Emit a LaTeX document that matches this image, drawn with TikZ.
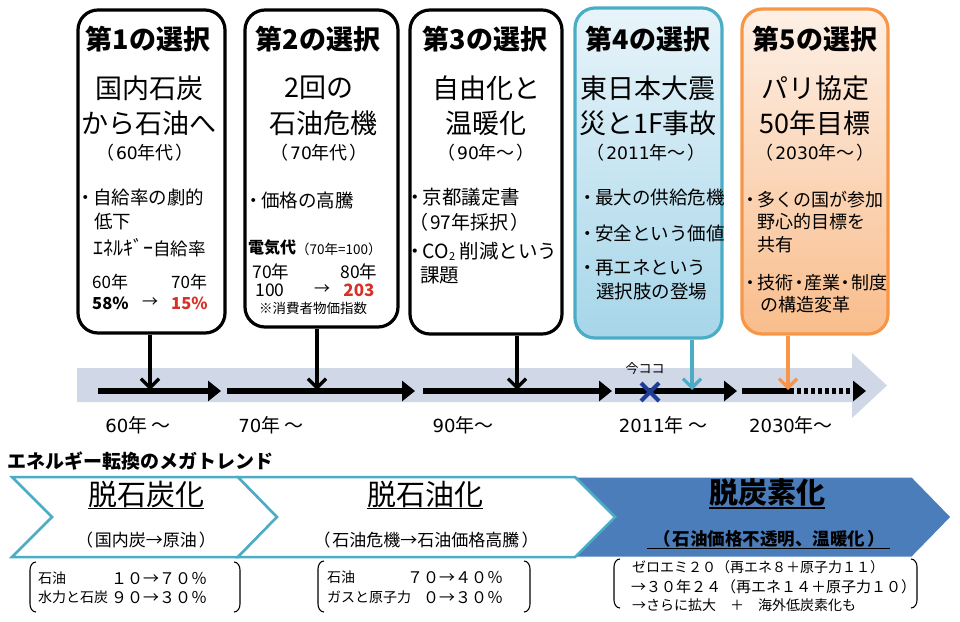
\documentclass[tikz,border=0pt]{standalone}
\usepackage{fontspec}
\setmainfont{Noto Sans CJK JP}
\newfontfamily\djvfont{DejaVu Sans}[Scale=0.95]
\usetikzlibrary{arrows.meta}
\definecolor{tealb}{HTML}{4BACC6}
\definecolor{tealf1}{HTML}{E8F4FA}
\definecolor{tealf2}{HTML}{A6D6E9}
\definecolor{orab}{HTML}{F79646}
\definecolor{oraf1}{HTML}{FDF0E6}
\definecolor{oraf2}{HTML}{F9BD8C}
\definecolor{band}{HTML}{D0D8E8}
\definecolor{chevb}{HTML}{4BACC6}
\definecolor{chevblue}{HTML}{4A7DBA}
\definecolor{xblue}{HTML}{1F3C96}
\definecolor{redt}{HTML}{D6322A}
\newcommand\fs[1]{\fontsize{#1pt}{#1pt}\selectfont}
\newcommand\bul{\makebox[0.8em][c]{・}}
\newcommand\lp{（\hspace{2pt}}
\newcommand\rp{\hspace{2pt}）}
\newcommand\dg[1]{{\djvfont #1}}
\tikzset{
  boxbase/.style={rounded corners=20pt, line width=3.2pt},
  blackbox/.style={boxbase, draw=black, fill=white},
  tealbox/.style={boxbase, draw=tealb, top color=tealf1, bottom color=tealf2},
  orabox/.style={boxbase, draw=orab, top color=oraf1, bottom color=oraf2},
  txt/.style={inner sep=0pt, font=\fs{18.5}},
  ttl/.style={inner sep=0pt, font=\fs{27}\bfseries},
  big/.style={inner sep=0pt, font=\fs{27}},
  era/.style={inner sep=0pt, font=\fs{18}},
  varrow/.style={line width=3.3pt, -{Straight Barb[length=9pt,width=18pt]}},
  tarrow/.style={line width=5.5pt, -{Triangle[length=13pt,width=20pt]}},
  lbl/.style={inner sep=0pt, font=\fs{19}},
  chev/.style={draw=chevb, line width=2.5pt, fill=white, line join=miter},
  small/.style={inner sep=0pt, font=\fs{14}},
  num/.style={inner sep=0pt, font=\fs{16}},
  brk/.style={line width=1.1pt},
}
\begin{document}
\begin{tikzpicture}[x=1pt,y=-1pt]
\useasboundingbox (0,0) rectangle (960,621);
% ---------- timeline band ----------
\fill[band] (77,368) -- (852,368) -- (852,353) -- (887,385.5) -- (852,418) -- (852,402) -- (77,402) -- cycle;
% ---------- boxes ----------
\node[blackbox, minimum width=147pt, minimum height=323pt] (b1) at (151.5,171.5) {};
\node[blackbox, minimum width=153pt, minimum height=317pt] (b2) at (321.5,168.5) {};
\node[blackbox, minimum width=152pt, minimum height=324pt] (b3) at (486,172) {};
\node[tealbox, minimum width=147pt, minimum height=330pt] (b4) at (648.5,173) {};
\node[orabox, minimum width=146pt, minimum height=325pt] (b5) at (815,171.5) {};
% ---------- box 1 ----------
\node[ttl] (t1) at (148,39) {第1の選択};
\node[big] (t1a) at (149,88) {国内石炭};
\node[big] (t1b) at (149,123) {から石油へ};
\node[era] (t1c) at (145,153) {\lp\dg{60}年代\rp};
\node[txt, anchor=west] (t1d) at (78,197) {\bul 自給率の劇的};
\node[txt, anchor=west] (t1e) at (94,221) {低下};
\node[txt, anchor=west, font=\fs{17.5}] (t1f) at (93,248) {{\fs{20}ｴﾈﾙｷﾞｰ}自給率};
\node[txt, anchor=west, font=\fs{17}] (t1g) at (92,282) {60年};
\node[txt, anchor=west, font=\fs{17}] (t1h) at (171,282) {70年};
\node[txt, anchor=west, font=\fs{16.5}\bfseries] (t1i) at (92,303) {58\%};
\node[txt, font=\fs{16}] (t1j) at (150,303) {→};
\node[txt, anchor=west, font=\fs{16.5}\bfseries, text=redt] (t1k) at (171,303) {15\%};
% ---------- box 2 ----------
\node[ttl] (t2) at (318,39) {第2の選択};
\node[big] (t2a) at (319,88) {2回の};
\node[big] (t2b) at (323,123) {石油危機};
\node[era] (t2c) at (319,153) {\lp\dg{70}年代\rp};
\node[txt, anchor=west] (t2d) at (246,200) {\bul 価格の高騰};
\node[txt, anchor=west, font=\fs{16}\bfseries] (t2e) at (248,248) {電気代};
\node[txt, anchor=west, font=\fs{13.5}] (t2f) at (296,249) {（70年=100）};
\node[txt, font=\fs{17.5}] (t2g) at (271,272) {70年};
\node[txt, font=\fs{17.5}] (t2h) at (359,272) {80年};
\node[txt, font=\fs{17.5}] (t2i) at (270,290) {100};
\node[txt, font=\fs{16}] (t2j) at (322,290) {→};
\node[txt, font=\fs{17}\bfseries, text=redt] (t2k) at (359,290) {203};
\node[txt, font=\fs{13.5}] (t2l) at (313,308) {※消費者物価指数};
% ---------- box 3 ----------
\node[ttl] (t3) at (485,39) {第3の選択};
\node[big] (t3a) at (486,88) {自由化と};
\node[big] (t3b) at (486,123) {温暖化};
\node[era] (t3c) at (486,153) {\lp\dg{90}年～\rp};
\node[txt, anchor=west, font=\fs{19.5}] (t3d) at (407,197) {\bul 京都議定書};
\node[txt, anchor=west, font=\fs{19}] (t3e) at (409,222) {\lp 97年採択\rp};
\node[txt, anchor=west, font=\fs{19.5}] (t3f) at (407,251) {\bul CO{\fs{11}\raisebox{-2pt}{2}} 削減という};
\node[txt, anchor=west, font=\fs{19.5}] (t3g) at (420,275) {課題};
% ---------- box 4 ----------
\node[ttl] (t4) at (648,39) {第4の選択};
\node[big] (t4a) at (648,88) {東日本大震};
\node[big] (t4b) at (648,123) {災と1F事故};
\node[era] (t4c) at (646,153) {\lp\dg{2011}年～\rp};
\node[txt, anchor=west] (t4d) at (580,197) {\bul 最大の供給危機};
\node[txt, anchor=west] (t4e) at (580,233) {\bul 安全という価値};
\node[txt, anchor=west] (t4f) at (580,268) {\bul 再エネという};
\node[txt, anchor=west] (t4g) at (596,292) {選択肢の登場};
% ---------- box 5 ----------
\node[ttl] (t5) at (815,39) {第5の選択};
\node[big] (t5a) at (815,88) {パリ協定};
\node[big] (t5b) at (815,123) {50年目標};
\node[era] (t5c) at (815,153) {\lp\dg{2030}年～\rp};
\node[txt, anchor=west, font=\fs{18}] (t5d) at (743,200) {\bul 多くの国が参加};
\node[txt, anchor=west, font=\fs{18}] (t5e) at (757,222) {野心的目標を};
\node[txt, anchor=west, font=\fs{18}] (t5f) at (757,245) {共有};
\node[txt, anchor=west, font=\fs{18}] (t5g) at (743,283) {\bul 技術\makebox[0.6em][c]{・}産業\makebox[0.6em][c]{・}制度};
\node[txt, anchor=west, font=\fs{18}] (t5h) at (760,305) {の構造変革};
% ---------- timeline ----------
\coordinate (s1) at (98,391);  \coordinate (e1) at (221,391);
\coordinate (s2) at (227,391); \coordinate (e2) at (415,391);
\coordinate (s3) at (423,391); \coordinate (e3) at (612,391);
\coordinate (s4) at (615,391); \coordinate (e4) at (737,391);
\coordinate (s5) at (742,391); \coordinate (m5) at (790,391); \coordinate (e5) at (866,391);
\draw[tarrow] (s1) -- (e1);
\draw[tarrow] (s2) -- (e2);
\draw[tarrow] (s3) -- (e3);
\draw[tarrow] (s4) -- (e4);
\draw[line width=5.5pt] (s5) -- (m5);
\draw[tarrow, dash pattern=on 4pt off 3pt] (m5) -- (e5);
% vertical arrows
\coordinate (a1) at (150,390);
\coordinate (a2) at (317,390);
\coordinate (a3) at (517,390);
\coordinate (a4) at (692,390);
\coordinate (a5) at (788,390);
\draw[varrow] (b1.south -| a1) -- (a1);
\draw[varrow] (b2.south -| a2) -- (a2);
\draw[varrow] (b3.south -| a3) -- (a3);
\draw[varrow, draw=tealb] (b4.south -| a4) -- (a4);
\draw[varrow, draw=orab] (b5.south -| a5) -- (a5);
% now here
\node[inner sep=0pt, font=\fs{13}] (now) at (645,369) {今ココ};
\coordinate (xc) at (650,392);
\draw[xblue, line width=4pt] ([shift={(-9,-9)}]xc) -- ([shift={(9,9)}]xc);
\draw[xblue, line width=4pt] ([shift={(-9,9)}]xc) -- ([shift={(9,-9)}]xc);
% labels
\node[lbl] (l1) at (138,425) {\dg{60}年 ～};
\node[lbl] (l2) at (271,425) {\dg{70}年 ～};
\node[lbl] (l3) at (463,425) {\dg{90}年～};
\node[lbl] (l4) at (663,425) {\dg{2011}年 ～};
\node[lbl] (l5) at (791,425) {\dg{2030}年～};
% ---------- megatrend ----------
\node[inner sep=0pt, anchor=west, font=\fs{19}\bfseries] (mt) at (7,461) {エネルギー転換のメガトレンド};
\draw[draw=white, line width=1pt, fill=chevblue] (575,477) -- (912,477) -- (951,517) -- (912,557) -- (575,557) -- (615,517) -- cycle;
\draw[chev] (12,477) -- (238,477) -- (277,517) -- (238,557) -- (12,557) -- (52,517) -- cycle;
\draw[chev] (238,477) -- (575,477) -- (615,517) -- (575,557) -- (238,557) -- (277,517) -- cycle;
\node[inner sep=0pt, font=\fs{29}] (c1) at (146,494) {脱石炭化};
\draw[line width=1.3pt] ([yshift=-1pt]c1.south west) -- ([yshift=-1pt]c1.south east);
\node[inner sep=0pt, font=\fs{17}] (c1s) at (146,540) {\lp 国内炭→原油\rp};
\node[inner sep=0pt, font=\fs{29}] (c2) at (425,494) {脱石油化};
\draw[line width=1.3pt] ([yshift=-1pt]c2.south west) -- ([yshift=-1pt]c2.south east);
\node[inner sep=0pt, font=\fs{17}] (c2s) at (426,540) {\lp 石油危機→石油価格高騰\rp};
\node[inner sep=0pt, font=\fs{29}\bfseries] (c3) at (767,493) {脱炭素化};
\draw[line width=1.5pt] ([yshift=-1pt]c3.south west) -- ([yshift=-1pt]c3.south east);
\node[inner sep=0pt, font=\fs{17.5}\bfseries] (c3s) at (769,539) {\lp 石油価格不透明、温暖化\rp};
\draw[line width=1.3pt] ([xshift=-6pt,yshift=-0.5pt]c3s.south west) -- ([xshift=5pt,yshift=-0.5pt]c3s.south east);
% ---------- brackets ----------
\draw[brk] (36,562) to[out=180,in=90] (30,570) -- (30,604) to[out=-90,in=180] (36,612);
\draw[brk] (234,562) to[out=0,in=90] (240,570) -- (240,604) to[out=-90,in=0] (234,612);
\node[small, anchor=west] (k1a) at (38,578) {石油};
\node[num, anchor=west] (k1b) at (111,578) {１０→７０％};
\node[small, anchor=west] (k1c) at (38,597) {水力と石炭};
\node[num, anchor=west] (k1d) at (111,597) {９０→３０％};
\draw[brk] (324,561) to[out=180,in=90] (318,569) -- (318,604) to[out=-90,in=180] (324,612);
\draw[brk] (524,561) to[out=0,in=90] (530,569) -- (530,604) to[out=-90,in=0] (524,612);
\node[small, anchor=west] (k2a) at (327,577) {石油};
\node[num, anchor=west] (k2b) at (407,577) {７０→４０％};
\node[small, anchor=west] (k2c) at (327,597) {ガスと原子力};
\node[num, anchor=west] (k2d) at (423,597) {０→３０％};
\draw[brk] (620,559) to[out=180,in=90] (614,567) -- (614,600) to[out=-90,in=180] (620,608);
\draw[brk] (911,559) to[out=0,in=90] (917,567) -- (917,600) to[out=-90,in=0] (911,608);
\node[small, anchor=west] (k3a) at (632,567) {ゼロエミ２０（再エネ８＋原子力１１）};
\node[small, anchor=west, font=\fs{15}] (k3b) at (631,587) {→３０年２４（再エネ１４＋原子力１０）};
\node[small, anchor=west] (k3c) at (632,605) {→さらに拡大　＋　海外低炭素化も};
\end{tikzpicture}
\end{document}
